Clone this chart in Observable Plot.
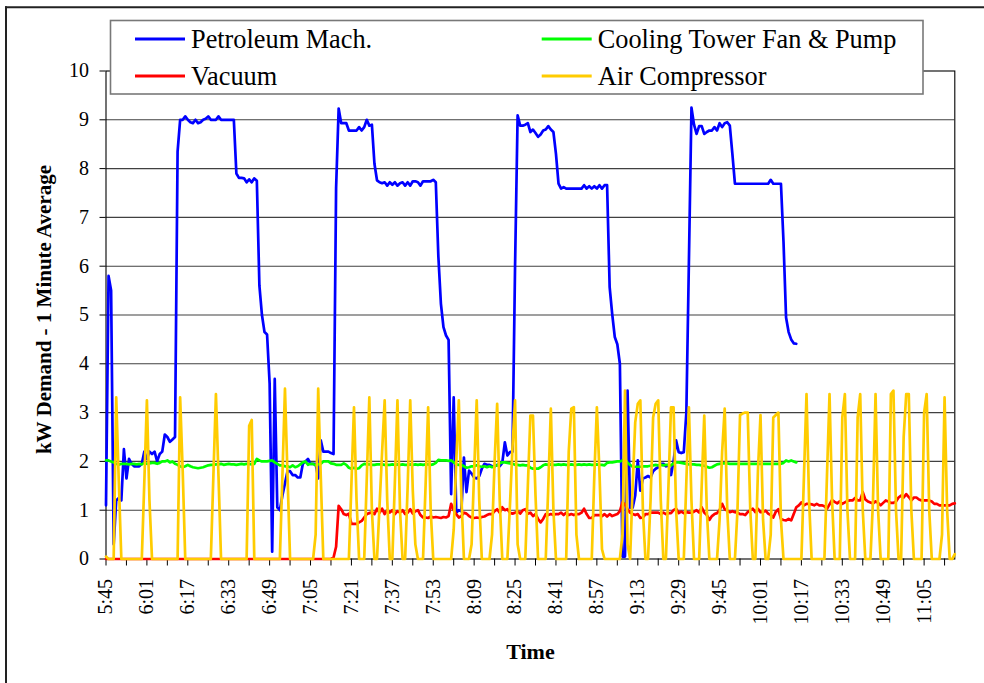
<!DOCTYPE html>
<html><head><meta charset="utf-8">
<script src="https://cdn.jsdelivr.net/npm/d3@7"></script>
<script src="https://cdn.jsdelivr.net/npm/@observablehq/plot@0.6"></script>
<style>
body{margin:0;background:#fff;}
#wrap{position:relative;width:984px;height:683px;overflow:hidden;background:#fff;}
#wrap > svg{position:absolute;left:0;top:0;}
</style></head>
<body><div id="wrap"></div>
<script>
const tickLabels = ["5:45","6:01","6:17","6:33","6:49","7:05","7:21","7:37","7:53","8:09","8:25","8:41","8:57","9:13","9:29","9:45","10:01","10:17","10:33","10:49","11:05"];
const lastMinute = 332;

const petroleum = [1.1,5.8,5.5,0.3,1.2,1.25,1.2,2.25,1.65,2.05,
1.95,1.9,1.9,1.9,1.95,2.2,2.05,2.2,2.15,2.2,
2.0,2.15,2.2,2.55,2.5,2.4,2.45,2.5,8.35,9.0,
9.0,9.07,9.0,8.95,8.93,9.0,8.93,8.95,9.0,9.02,
9.07,9.0,9.0,9.0,9.07,9.0,9.0,9.0,9.0,9.0,
9.0,7.9,7.81,7.81,7.8,7.72,7.78,7.72,7.8,7.75,
5.6,5.0,4.65,4.6,3.6,0.15,3.69,1.06,1.0,1.3,
1.55,1.8,1.8,1.72,1.72,1.67,1.67,1.95,2.0,2.05,
1.95,1.95,1.95,1.65,2.43,2.2,2.2,2.2,2.17,2.15,
7.6,9.23,8.93,8.93,8.93,8.78,8.78,8.78,8.78,8.85,
8.78,8.85,9.0,8.88,8.9,8.1,7.76,7.72,7.7,7.72,
7.65,7.72,7.67,7.72,7.65,7.7,7.72,7.65,7.72,7.65,
7.74,7.74,7.72,7.65,7.74,7.74,7.74,7.74,7.77,7.72,
6.2,5.23,4.75,4.58,4.49,1.33,3.31,0.95,1.0,0.98,
2.08,1.37,1.81,1.75,1.67,1.65,1.7,1.85,1.95,1.93,
1.93,1.9,1.9,1.93,1.9,1.97,2.39,2.12,2.19,2.2,
6.0,9.09,8.88,8.88,8.9,8.93,8.75,8.8,8.73,8.65,
8.7,8.78,8.8,8.87,8.8,8.75,8.3,7.69,7.59,7.62,
7.59,7.59,7.59,7.59,7.59,7.59,7.59,7.66,7.59,7.64,
7.59,7.64,7.59,7.66,7.59,7.66,7.66,5.57,5.02,4.55,
4.4,4.0,0.05,0.05,3.45,1.05,1.05,1.3,2.02,1.4,
1.65,1.67,1.7,1.67,1.8,1.85,1.88,1.95,1.95,1.9,
1.93,1.72,2.0,2.43,2.19,2.17,2.19,3.0,6.1,9.25,
8.9,8.71,8.87,8.87,8.71,8.75,8.78,8.78,8.85,8.78,
8.93,8.85,8.93,8.95,8.88,8.3,7.69,7.69,7.69,7.69,
7.69,7.69,7.69,7.69,7.69,7.69,7.69,7.69,7.69,7.69,
7.77,7.69,7.69,7.69,7.69,6.5,4.95,4.65,4.5,4.42,4.41];

const cooling = [2.02,2.02,2.0,1.98,1.95,1.93,1.95,1.95,1.95,1.94,
1.95,1.95,1.94,1.95,1.94,1.97,1.95,1.96,1.97,1.97,
1.95,1.97,2.0,2.0,2.02,1.98,2.0,1.95,1.93,1.9,
1.88,1.9,1.93,1.9,1.88,1.87,1.86,1.87,1.88,1.9,
1.92,1.93,1.93,1.94,1.94,1.95,1.93,1.94,1.95,1.94,
1.94,1.93,1.94,1.95,1.94,1.95,1.95,1.94,1.95,2.05,
2.02,2.0,2.0,2.0,2.01,2.02,1.98,1.95,1.92,1.92,
1.9,1.9,1.88,1.92,1.88,1.9,1.94,1.98,2.0,1.93,
1.95,1.95,1.92,1.94,1.95,2.0,2.0,2.0,1.96,1.95,
1.93,1.93,1.93,1.96,1.93,1.87,1.85,1.87,1.85,1.86,
1.92,1.95,1.94,1.94,1.93,1.93,1.94,1.94,1.94,1.93,
1.93,1.93,1.94,1.93,1.94,1.93,1.94,1.93,1.93,1.94,
1.93,1.94,1.93,1.94,1.93,1.94,1.94,1.93,1.94,1.97,
2.03,2.02,2.02,2.02,2.01,2.02,1.98,1.94,1.93,1.93,
1.9,1.87,1.88,1.9,1.9,1.92,1.9,1.89,1.9,1.88,
1.9,1.88,1.9,1.92,1.96,1.98,1.98,1.97,1.96,1.95,
1.93,1.93,1.92,1.93,1.92,1.92,1.87,1.85,1.85,1.85,
1.88,1.92,1.94,1.93,1.94,1.93,1.93,1.94,1.93,1.94,
1.93,1.93,1.94,1.93,1.93,1.94,1.93,1.94,1.93,1.94,
1.93,1.93,1.94,1.93,1.93,1.92,1.97,1.98,1.98,1.99,
2.0,2.0,2.02,2.05,1.97,1.93,1.89,1.89,1.89,1.89,
1.9,1.9,1.9,1.91,1.92,1.93,1.92,1.93,1.92,1.93,
1.93,1.92,1.96,1.98,1.98,1.97,1.96,1.95,1.94,1.94,
1.94,1.93,1.93,1.92,1.91,1.89,1.87,1.88,1.91,1.94,
1.95,1.96,1.96,1.96,1.95,1.95,1.95,1.95,1.95,1.95,
1.95,1.95,1.95,1.95,1.95,1.95,1.95,1.95,1.95,1.95,
1.95,1.95,1.95,1.95,1.95,1.97,2.02,2.0,2.02,2.0,1.98];

const vacuum = [0,0,0,0,0,0,0,0,0,0,
0,0,0,0,0,0,0,0,0,0,
0,0,0,0,0,0,0,0,0,0,
0,0,0,0,0,0,0,0,0,0,
0,0,0,0,0,0,0,0,0,0,
0,0,0,0,0,0,0,0,0,0,
0,0,0,0,0,0,0,0,0,0,
0,0,0,0,0,0,0,0,0,0,
0,0,0,0,0,0,0,0,0,0.03,
0.25,1.09,1.02,0.92,0.9,0.93,0.72,0.72,0.72,0.75,
0.78,0.85,0.92,0.94,0.96,0.92,1.03,0.95,1.03,0.92,
1.0,0.95,1.0,0.92,0.98,0.95,1.0,0.92,0.95,1.02,
0.93,0.98,1.0,0.9,0.85,0.85,0.84,0.87,0.85,0.86,
0.85,0.84,0.86,0.85,0.88,1.13,1.0,0.92,0.85,0.88,
0.95,0.93,0.88,0.85,0.84,0.85,0.84,0.86,0.87,0.9,
0.92,0.92,0.98,1.02,0.95,1.06,1.0,1.02,0.95,0.93,
0.95,0.98,0.93,1.0,1.02,0.93,0.95,0.88,0.92,0.82,
0.75,0.82,0.92,0.9,0.92,0.9,0.92,0.92,0.95,0.9,
0.95,0.9,0.92,0.9,0.92,0.92,0.95,1.03,0.92,0.84,
0.84,0.9,0.9,0.9,0.88,0.92,0.87,0.92,0.88,0.9,
0.92,0.98,1.16,1.12,1.02,0.95,0.92,0.9,0.92,0.84,
0.85,0.92,0.92,0.95,0.95,0.95,0.95,0.92,0.95,0.92,
0.94,0.94,1.0,1.03,0.94,0.97,0.94,0.96,0.95,0.95,
0.97,1.0,0.95,1.06,0.95,0.9,0.8,0.88,0.92,0.94,
1.0,1.13,1.02,0.99,0.96,0.98,0.96,0.95,0.92,0.92,
0.9,0.96,1.0,1.03,0.96,1.03,0.96,0.96,0.99,0.93,
0.9,0.85,0.97,1.02,0.82,0.8,0.79,0.82,0.79,0.92,
1.06,1.1,1.16,1.1,1.13,1.13,1.12,1.1,1.13,1.1,
1.1,1.08,1.03,1.12,1.21,1.17,1.14,1.18,1.13,1.16,
1.19,1.2,1.2,1.25,1.2,1.2,1.37,1.22,1.18,1.16,
1.14,1.18,1.15,1.1,1.15,1.2,1.18,1.15,1.15,1.18,
1.26,1.3,1.26,1.33,1.27,1.2,1.26,1.26,1.22,1.2,
1.2,1.2,1.2,1.18,1.13,1.13,1.1,1.1,1.1,1.1,
1.1,1.13,1.14];

const airCompressor = [0.05,0,0,0,3.31,1.6,0,0,0,0,
0,0,0,0,0,1.6,3.25,1.2,0,0,
0,0,0,0,0,0,0,0,0,3.31,
1.8,0,0,0,0,0,0,0,0,0,
0,0,1.7,3.38,1.7,0,0,0,0,0,
0,0,0,0,0,0,2.73,2.85,0,0,
0,0,0,0,0,0,0,0,0,1.7,
3.49,1.7,0,0,0,0,0,0,0,0,
0,0,0.5,3.49,1.7,0,0,0,0,0,
0,0,0,0,0,0,1.55,3.11,1.2,0,
0,0,1.65,3.31,1.0,0,0,1.1,2.2,3.25,
1.2,0,0,1.6,3.25,1.0,0,0,1.5,3.25,
1.4,0.3,0,0,0,1.5,3.11,1.0,0,0,
0,0,0,0,0,0,0.6,2.0,3.25,1.3,
0,0,0,0.3,1.8,3.25,1.2,0,0,0,
0,0.5,2.0,3.18,1.2,0,0,0,1.1,2.3,
3.25,0.3,0,0,0,1.5,2.94,2.94,1.3,0,
0,0,0,1.5,3.08,1.0,0,0,0,0,
0,2.2,3.08,3.11,0.5,0,0,0,0,0,
0,1.7,3.11,1.8,0.2,0,0,0,0,0,
0,0,0.5,3.45,0.3,0,1.5,2.8,3.18,3.25,
1.0,0,0,1.2,2.9,3.18,3.25,1.2,0,0,
1.5,3.11,3.11,1.0,0,0,0,1.6,3.11,1.2,
0,0,0,1.5,2.94,1.0,0,0,0,0,
0.8,2.2,3.08,1.0,0,0,0,1.0,2.95,2.98,
3.0,3.0,1.0,0,0,1.8,2.95,0.8,0,0,
0.5,2.9,2.95,3.0,0.8,0,0,0,0,0,
0,0,0,1.7,3.38,1.2,0,0,0,0,
0,0,1.7,3.38,1.2,0,0,0,2.9,3.38,
1.0,0,0,0,2.9,3.38,1.0,0,0,0,
1.2,3.38,1.0,0,0,0,0,3.38,3.45,1.0,
0,0,2.5,3.38,3.38,1.0,0,0,0,0,
3.0,3.38,1.0,0,0,0,0,0.5,3.31,1.0,
0,0,0.1];

const seriesNames = ["Petroleum Mach.","Vacuum","Cooling Tower Fan & Pump","Air Compressor"];
const seriesColors = ["#0000ff","#ff0000","#00ff00","#ffcc00"];
const seriesValues = [petroleum, vacuum, cooling, airCompressor];
const yTitle = "kW Demand - 1 Minute Average";
const xTitle = "Time";

const toMin = s => { const [h, m] = s.split(":").map(Number); return h * 60 + m; };
const t0 = toMin(tickLabels[0]);
const labelPos = tickLabels.map(s => toMin(s) - t0);
const minorTicks = d3.range(0, lastMinute + 1, 8);

const W = 984, H = 683;
const mL = 105.5, mR = 29.7, mT = 70.5, mB = 124.5;
const font = "'Liberation Serif','Times New Roman',serif";

const lineMarks = seriesValues.map((vals, k) =>
  Plot.line(vals, {x: (d, i) => i, y: d => d, stroke: seriesColors[k], strokeWidth: 2.7, strokeLinejoin: "round"}));

const chart = Plot.plot({
  width: W, height: H,
  marginLeft: mL, marginRight: mR, marginTop: mT, marginBottom: mB,
  style: {fontFamily: font, fontSize: "20px", color: "#000", background: "transparent"},
  x: {domain: [0, lastMinute]},
  y: {domain: [0, 10]},
  marks: [
    Plot.gridY({ticks: d3.range(1, 10), stroke: "#404040", strokeOpacity: 1, strokeWidth: 1.1}),
    Plot.frame({stroke: "#000", strokeWidth: 1.1}),
    Plot.axisY({ticks: d3.range(0, 11), tickSize: 6, tickPadding: 11, label: null}),
    Plot.axisX({ticks: minorTicks, tickSize: 7, tickFormat: () => "", label: null}),
    Plot.axisX({ticks: labelPos, tickSize: 0, tickPadding: 20, tickRotate: -90, label: null,
      tickFormat: d => tickLabels[labelPos.indexOf(d)]}),
    ...lineMarks,
    Plot.text([yTitle], {text: d => d, frameAnchor: "left", textAnchor: "middle", lineAnchor: "middle",
      rotate: -90, dx: -61.5, dy: -5.5, fontWeight: "bold", fontSize: 21}),
    Plot.text([xTitle], {text: d => d, frameAnchor: "bottom", textAnchor: "middle", lineAnchor: "middle",
      dy: 92.5, fontWeight: "bold", fontSize: 22})
  ]
});
const wrap = document.getElementById("wrap");
wrap.appendChild(chart);

// overlay: outer chart border + legend
const ov = d3.select(wrap).append("svg").attr("width", W).attr("height", H)
  .style("position", "absolute").style("left", 0).style("top", 0);
ov.append("line").attr("x1", 5).attr("x2", W).attr("y1", 7.3).attr("y2", 7.3).attr("stroke", "#222").attr("stroke-width", 2);
ov.append("line").attr("x1", 6).attr("x2", 6).attr("y1", 6.3).attr("y2", H).attr("stroke", "#222").attr("stroke-width", 2);
ov.append("rect").attr("x", 110.5).attr("y", 20.5).attr("width", 812.5).attr("height", 73.5)
  .attr("fill", "#fff").attr("stroke", "#787878").attr("stroke-width", 1.6);
const legendOrder = [0, 2, 1, 3];
const colX = [135, 541.7], rowY = [39, 76];
legendOrder.forEach((k, j) => {
  const cx = colX[j % 2], cy = rowY[Math.floor(j / 2)];
  ov.append("line").attr("x1", cx).attr("x2", cx + 50).attr("y1", cy).attr("y2", cy)
    .attr("stroke", seriesColors[k]).attr("stroke-width", 3);
  ov.append("text").attr("x", cx + 56).attr("y", cy + 9.3).attr("font-family", font).attr("font-size", 26.3)
    .attr("fill", "#000").text(seriesNames[k]);
});
</script>
</body></html>
